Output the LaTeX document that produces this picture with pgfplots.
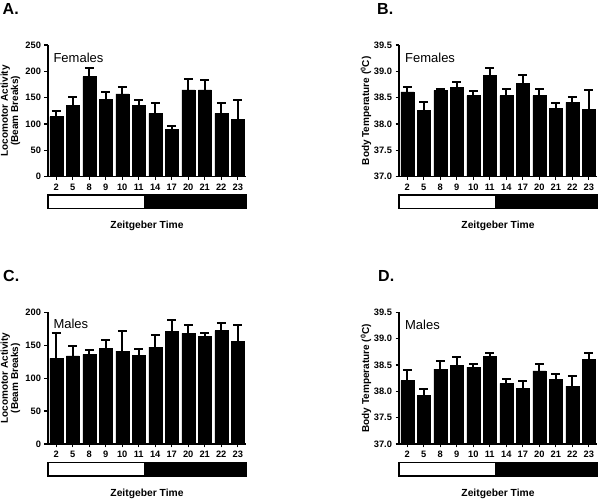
\documentclass[border=0pt]{standalone}
\usepackage{pgfplots}
\pgfplotsset{compat=1.18}
\usepackage{pgfplotstable}
\usepackage{fontspec}
\setmainfont{Liberation Sans}

\pgfplotstableread{
x y e
0 114 11
1 136 16
2 190 16
3 147 14
4 157 13
5 136 10
6 120 20
7 90 6
8 165 20
9 165 18
10 120 19
11 109 37
}\dataA
\pgfplotstableread{
x y e
0 38.61 0.09
1 38.26 0.15
2 38.64 0.02
3 38.69 0.10
4 38.54 0.08
5 38.92 0.15
6 38.54 0.13
7 38.77 0.16
8 38.54 0.12
9 38.30 0.09
10 38.41 0.10
11 38.28 0.36
}\dataB
\pgfplotstableread{
x y e
0 130 38
1 134 15
2 136 6
3 145 13
4 141 30
5 135 10
6 147 18
7 171 18
8 168 13
9 163 6
10 172 11
11 156 25
}\dataC
\pgfplotstableread{
x y e
0 38.21 0.20
1 37.93 0.11
2 38.42 0.16
3 38.49 0.17
4 38.46 0.05
5 38.67 0.05
6 38.15 0.08
7 38.06 0.14
8 38.39 0.12
9 38.23 0.10
10 38.10 0.19
11 38.61 0.12
}\dataD

\pgfplotsset{
 panel/.style={
  width=198pt, height=131.7pt, scale only axis,
  anchor=south west,
  ybar, bar width=13pt,
  xmin=-0.5, xmax=11.5,
  axis x line*=bottom, axis y line*=left,
  axis line style={line width=1.3pt},
  xtick={0,...,11}, xticklabels={2,5,8,9,10,11,14,17,20,21,22,23},
  tick align=outside, major tick length=3.5pt,
  tick style={line width=1.2pt, black},
  ticklabel style={font=\bfseries\fontsize{9.3}{9}\selectfont},
  /pgf/number format/assume math mode=true,
  clip mode=individual,
  xlabel={Zeitgeber Time},
  xlabel style={at={(axis description cs:0.5,-0.375)}, anchor=center, font=\bfseries\fontsize{10.3}{12}\selectfont},
  ylabel style={anchor=center, font=\bfseries\fontsize{10}{9}\selectfont, align=center},
 },
 temp/.style={
  ymin=37, ymax=39.5, ytick={37,37.5,...,39.5},
  yticklabel style={/pgf/number format/.cd, fixed, fixed zerofill, precision=1},
  ylabel={Body Temperature (\textsuperscript{0}C)},
  ylabel style={at={(axis description cs:-0.167,0.5)}},
 },
 barplot/.style={fill=black, draw=black, line width=0.5pt,
  error bars/.cd, y dir=plus, y explicit,
  error bar style={line width=2pt, solid, black},
  error mark=-,
  error mark options={rotate=90, mark size=4.5pt, line width=2pt, solid, black}},
}
\newcommand{\ldbar}{%
  \draw[line width=1.5pt, fill=black] (rel axis cs:0,-0.139) rectangle (rel axis cs:1,-0.242);
  \draw[line width=1.5pt, fill=white] (rel axis cs:0,-0.139) rectangle (rel axis cs:0.49,-0.242);
}

\begin{document}
\begin{tikzpicture}
\path[use as bounding box] (0,0) rectangle (600pt,500pt);
\node[anchor=base west, inner sep=0, font=\bfseries\fontsize{16}{16}\selectfont] at (2.5pt,485pt) {A.};
\node[anchor=base west, inner sep=0, font=\bfseries\fontsize{16}{16}\selectfont] at (377pt,485pt) {B.};
\node[anchor=base west, inner sep=0, font=\bfseries\fontsize{16}{16}\selectfont] at (3pt,218pt) {C.};
\node[anchor=base west, inner sep=0, font=\bfseries\fontsize{16}{16}\selectfont] at (378pt,218pt) {D.};

\begin{axis}[panel, at={(48pt,323.3pt)},
  ymin=0, ymax=250, ytick={0,50,...,250},
  ylabel={Locomotor Activity\\(Beam Breaks)},
  ylabel style={at={(axis description cs:-0.19,0.5)}}]
\addplot[barplot] table[x=x, y=y, y error=e] {\dataA};
\ldbar
\node[anchor=west, inner sep=0, font=\fontsize{13}{13}\selectfont] at (axis description cs:0.027,0.904) {Females};
\end{axis}

\begin{axis}[panel, temp, at={(399pt,323.3pt)}]
\addplot[barplot] table[x=x, y=y, y error=e] {\dataB};
\ldbar
\node[anchor=west, inner sep=0, font=\fontsize{13}{13}\selectfont] at (axis description cs:0.03,0.904) {Females};
\end{axis}

\begin{axis}[panel, at={(48pt,56pt)},
  ymin=0, ymax=200, ytick={0,50,...,200},
  ylabel={Locomotor Activity\\(Beam Breaks)},
  ylabel style={at={(axis description cs:-0.19,0.5)}}]
\addplot[barplot] table[x=x, y=y, y error=e] {\dataC};
\ldbar
\node[anchor=west, inner sep=0, font=\fontsize{13}{13}\selectfont] at (axis description cs:0.027,0.909) {Males};
\end{axis}

\begin{axis}[panel, temp, at={(399pt,56pt)}]
\addplot[barplot] table[x=x, y=y, y error=e] {\dataD};
\ldbar
\node[anchor=west, inner sep=0, font=\fontsize{13}{13}\selectfont] at (axis description cs:0.03,0.904) {Males};
\end{axis}
\end{tikzpicture}
\end{document}
